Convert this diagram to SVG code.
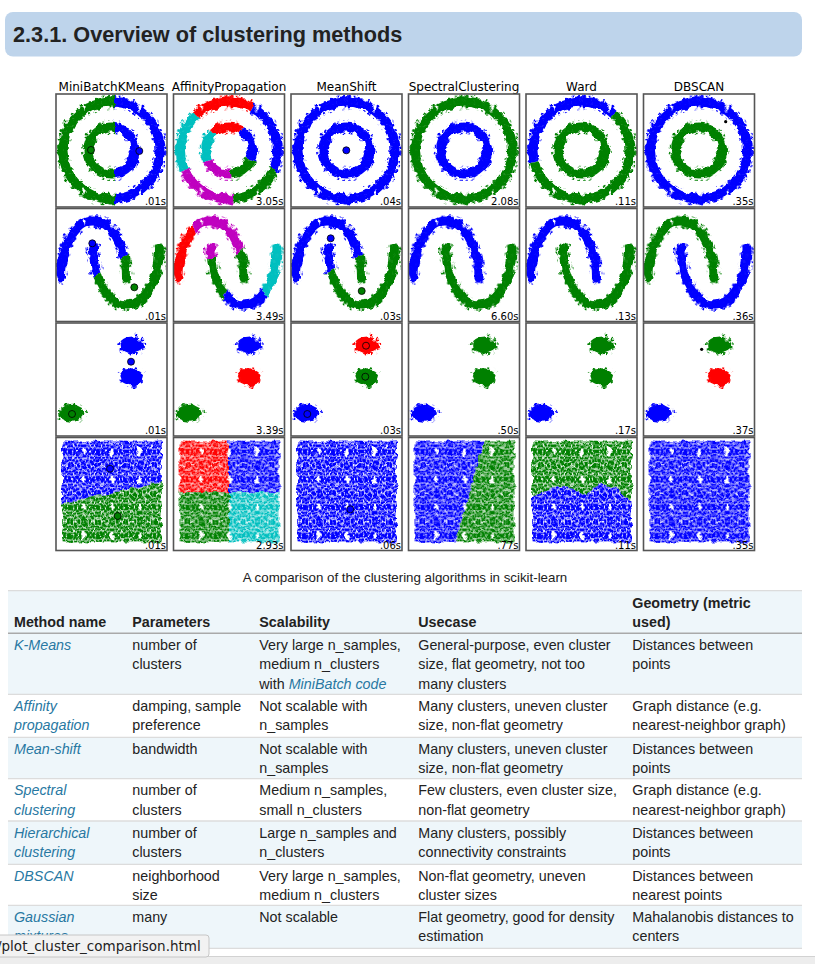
<svg xmlns="http://www.w3.org/2000/svg" width="815" height="964" viewBox="0 0 815 964">
<style>
.ttl{font-family:"DejaVu Sans",sans-serif;font-size:12px;fill:#000;text-anchor:middle}
.tm{font-family:"DejaVu Sans",sans-serif;font-size:10px;fill:#000;text-anchor:end}
.frame{fill:none;stroke:#555;stroke-width:1.6}
.cen{stroke:#000;stroke-width:0.8}
.cell{font-family:"Liberation Sans",Arial,sans-serif;font-size:14.3px;fill:#222}
.hd{font-weight:bold}
.lk{fill:#2878a2;font-style:italic}
.rl{stroke:#dcdcdc;stroke-width:1.3}
.lt{fill:#eef6fa}
</style>
<defs>
<filter id="jit" x="-10%" y="-10%" width="120%" height="120%"><feTurbulence type="fractalNoise" baseFrequency="0.13" numOctaves="2" seed="7"/><feDisplacementMap in="SourceGraphic" scale="6" xChannelSelector="R" yChannelSelector="G"/></filter>
<g id="dC"><circle cx="1.6" cy="1.8" r="2.4"/><circle cx="5.2" cy="1" r="2.4"/><circle cx="8.7" cy="2.2" r="2.4"/><circle cx="12.3" cy="1.4" r="2.4"/><circle cx="3.3" cy="4.9" r="2.4"/><circle cx="6.9" cy="4.4" r="2.4"/><circle cx="10.6" cy="5.3" r="2.4"/><circle cx="1.2" cy="8.3" r="2.4"/><circle cx="4.8" cy="8.1" r="2.4"/><circle cx="8.4" cy="7.9" r="2.4"/><circle cx="12.4" cy="8.8" r="2.4"/><circle cx="2.9" cy="11.6" r="2.4"/><circle cx="6.6" cy="11.3" r="2.4"/><circle cx="10.1" cy="11.9" r="2.4"/><circle cx="13.2" cy="12.6" r="2.4"/><circle cx="0" cy="3.8" r="2.4"/><circle cx="14" cy="5.5" r="2.4"/><circle cx="4.5" cy="14" r="2.4"/><circle cx="8.8" cy="14" r="2.4"/></g>
<g id="dD"><circle cx="1.6" cy="1.8" r="1.7"/><circle cx="5.2" cy="1" r="1.7"/><circle cx="8.7" cy="2.2" r="1.7"/><circle cx="12.3" cy="1.4" r="1.7"/><circle cx="3.3" cy="4.9" r="1.7"/><circle cx="6.9" cy="4.4" r="1.7"/><circle cx="10.6" cy="5.3" r="1.7"/><circle cx="1.2" cy="8.3" r="1.7"/><circle cx="4.8" cy="8.1" r="1.7"/><circle cx="8.4" cy="7.9" r="1.7"/><circle cx="12.4" cy="8.8" r="1.7"/><circle cx="2.9" cy="11.6" r="1.7"/><circle cx="6.6" cy="11.3" r="1.7"/><circle cx="10.1" cy="11.9" r="1.7"/><circle cx="13.2" cy="12.6" r="1.7"/><circle cx="0" cy="3.8" r="1.7"/><circle cx="14" cy="5.5" r="1.7"/><circle cx="4.5" cy="14" r="1.7"/><circle cx="8.8" cy="14" r="1.7"/></g>
<g id="dS"><circle cx="2.5" cy="3" r="1.5"/><circle cx="9" cy="2" r="1.5"/><circle cx="6" cy="7.5" r="1.5"/><circle cx="12" cy="9.5" r="1.5"/><circle cx="3" cy="12" r="1.5"/></g>
<g id="qC"><use href="#dC"/><use href="#dC" transform="matrix(-1 0 0 1 28 0)"/><use href="#dC" transform="matrix(1 0 0 -1 0 28)"/><use href="#dC" transform="rotate(180 14 14)"/></g>
<g id="qD"><use href="#dD"/><use href="#dD" transform="matrix(-1 0 0 1 28 0)"/><use href="#dD" transform="matrix(1 0 0 -1 0 28)"/><use href="#dD" transform="rotate(180 14 14)"/></g>
<g id="qS"><use href="#dS"/><use href="#dS" transform="matrix(-1 0 0 1 28 0)"/><use href="#dS" transform="matrix(1 0 0 -1 0 28)"/><use href="#dS" transform="rotate(180 14 14)"/></g>
<pattern id="bC" width="28" height="28" patternUnits="userSpaceOnUse"><use href="#qC" fill="#0000ff"/></pattern>
<pattern id="gC" width="28" height="28" patternUnits="userSpaceOnUse"><use href="#qC" fill="#008000"/></pattern>
<pattern id="rC" width="28" height="28" patternUnits="userSpaceOnUse"><use href="#qC" fill="#ff0000"/></pattern>
<pattern id="cC" width="28" height="28" patternUnits="userSpaceOnUse"><use href="#qC" fill="#00bfbf"/></pattern>
<pattern id="mC" width="28" height="28" patternUnits="userSpaceOnUse"><use href="#qC" fill="#bf00bf"/></pattern>
<pattern id="bD" width="28" height="28" patternUnits="userSpaceOnUse"><use href="#qD" fill="#0000ff"/></pattern>
<pattern id="gD" width="28" height="28" patternUnits="userSpaceOnUse"><use href="#qD" fill="#008000"/></pattern>
<pattern id="rD" width="28" height="28" patternUnits="userSpaceOnUse"><use href="#qD" fill="#ff0000"/></pattern>
<pattern id="cD" width="28" height="28" patternUnits="userSpaceOnUse"><use href="#qD" fill="#00bfbf"/></pattern>
<pattern id="bS" width="28" height="28" patternUnits="userSpaceOnUse"><use href="#qS" fill="#0000ff"/></pattern>
<pattern id="gS" width="28" height="28" patternUnits="userSpaceOnUse"><use href="#qS" fill="#008000"/></pattern>
<pattern id="rS" width="28" height="28" patternUnits="userSpaceOnUse"><use href="#qS" fill="#ff0000"/></pattern>
<pattern id="cS" width="28" height="28" patternUnits="userSpaceOnUse"><use href="#qS" fill="#00bfbf"/></pattern>
<pattern id="mS" width="28" height="28" patternUnits="userSpaceOnUse"><use href="#qS" fill="#bf00bf"/></pattern>

<clipPath id="pc"><rect width="111" height="113"/></clipPath>
<clipPath id="k1g"><rect x="-20" y="-20" width="79" height="160"/></clipPath>
<clipPath id="k1b"><rect x="59" y="-20" width="80" height="160"/></clipPath>
<clipPath id="a1c"><polygon points="55.5,56.5 -12.7,-16.6 -35.85,97.2"/></clipPath>
<clipPath id="a1r"><polygon points="55.5,56.5 105.5,-30.1 -12.7,-16.6"/></clipPath>
<clipPath id="a1b"><polygon points="55.5,56.5 147.55,95.57 105.5,-30.1"/></clipPath>
<clipPath id="a1g"><polygon points="55.5,56.5 64.2,156.1 147.55,95.57"/></clipPath>
<clipPath id="a1m"><polygon points="55.5,56.5 -35.85,97.2 64.2,156.1"/></clipPath>
<clipPath id="w1b"><polygon points="55.5,56.5 122.4,-17.8 55.5,-43.5 -21.1,-7.8 -41.5,80.7"/></clipPath>
<clipPath id="w1g"><polygon points="55.5,56.5 -41.5,80.7 55.5,156.5 155.5,56.5 122.4,-17.8"/></clipPath>
<clipPath id="k2b"><polygon points="-29.3,115.5 170.5,-22.5 170.5,-200 -200,-200 -200,115.5"/></clipPath>
<clipPath id="k2g"><polygon points="-29.3,115.5 170.5,-22.5 300,-22.5 300,300 -29.3,300"/></clipPath>
<clipPath id="m2b"><polygon points="-29.3,96.6 170.5,-3.6 170.5,-200 -200,-200 -200,96.6"/></clipPath>
<clipPath id="m2g"><polygon points="-29.3,96.6 170.5,-3.6 300,-3.6 300,300 -29.3,300"/></clipPath>
<clipPath id="a2ur"><polygon points="37.3,69.5 -12.7,-78.7 -100,-78.7 -100,130 37.3,130"/></clipPath>
<clipPath id="a2um"><polygon points="37.3,69.5 -12.7,-78.7 125.5,-10.7"/></clipPath>
<clipPath id="a2ug"><polygon points="37.3,69.5 125.5,-10.7 200,-10.7 200,130 37.3,130"/></clipPath>
<clipPath id="a2lm"><polygon points="70.6,39.5 70.6,-100 -100,-100 -100,91"/></clipPath>
<clipPath id="a2lg"><polygon points="70.6,39.5 -100,91 -100,200 4.9,200"/></clipPath>
<clipPath id="a2lb"><polygon points="70.6,39.5 4.9,200 143.8,200"/></clipPath>
<clipPath id="a2lc"><polygon points="70.6,39.5 143.8,200 200,200 200,-100 70.6,-100"/></clipPath>

<circle id="Oc" cx="55.5" cy="56.5" r="48.5" fill="none" stroke-width="9"/>
<circle id="Os" cx="55.5" cy="56.5" r="48.5" fill="none" stroke-width="14"/>
<circle id="Ic" cx="55.5" cy="56.5" r="23.5" fill="none" stroke-width="9"/>
<circle id="Is" cx="55.5" cy="56.5" r="23.5" fill="none" stroke-width="14"/>
<g id="Rc"><use href="#Oc"/><use href="#Ic"/></g>
<g id="Rs"><use href="#Os"/><use href="#Is"/></g>
<path id="Uc" d="M4.5 69.5A33 57 0 0 1 70.5 69.5" fill="none" stroke-width="9" stroke-linecap="round"/>
<path id="Us" d="M4.5 69.5A33 57 0 0 1 70.5 69.5" fill="none" stroke-width="14" stroke-linecap="round"/>
<path id="Lc" d="M37.5 39.5A33 57 0 0 0 103.5 39.5" fill="none" stroke-width="9" stroke-linecap="round"/>
<path id="Ls" d="M37.5 39.5A33 57 0 0 0 103.5 39.5" fill="none" stroke-width="14" stroke-linecap="round"/>
<g id="Mc"><use href="#Uc"/><use href="#Lc"/></g>
<g id="Ms"><use href="#Us"/><use href="#Ls"/></g>
<ellipse id="t3" cx="75.7" cy="22" rx="14.5" ry="11"/>
<ellipse id="t2" cx="75.7" cy="22" rx="12" ry="8.5"/>
<ellipse id="t1" cx="75.7" cy="22" rx="9.5" ry="6.8"/>
<ellipse id="m3" cx="75.7" cy="53.7" rx="14.5" ry="11"/>
<ellipse id="m2" cx="75.7" cy="53.7" rx="12" ry="8.5"/>
<ellipse id="m1" cx="75.7" cy="53.7" rx="9.5" ry="6.8"/>
<ellipse id="l3" cx="16" cy="90.5" rx="15.5" ry="10.5"/>
<ellipse id="l2" cx="15.7" cy="90.3" rx="12.5" ry="8.5"/>
<ellipse id="l1" cx="15.2" cy="90" rx="10" ry="6.5"/>
</defs>

<rect width="815" height="964" fill="#ffffff"/>

<g id="heading">
<rect x="5" y="12" width="797" height="44.5" rx="8" fill="#bed4eb"/>
<text x="13" y="41.7" font-family="Liberation Sans, Arial, sans-serif" font-size="21.7" font-weight="bold" fill="#222">2.3.1. Overview of clustering methods</text>
</g>

<g id="column-titles">
<text class="ttl" x="111.5" y="90.7">MiniBatchKMeans</text>
<text class="ttl" x="229" y="90.7">AffinityPropagation</text>
<text class="ttl" x="346.5" y="90.7">MeanShift</text>
<text class="ttl" x="464" y="90.7">SpectralClustering</text>
<text class="ttl" x="581.5" y="90.7">Ward</text>
<text class="ttl" x="699" y="90.7">DBSCAN</text>
</g>

<!-- Row 1: circles -->
<g id="p11" transform="translate(56 94)">
<g clip-path="url(#pc)">
<g filter="url(#jit)">
<g clip-path="url(#k1g)"><use href="#Rs" stroke="url(#gS)"/><use href="#Rc" stroke="url(#gC)"/></g>
<g clip-path="url(#k1b)"><use href="#Rs" stroke="url(#bS)"/><use href="#Rc" stroke="url(#bC)"/></g>
</g>
<circle class="cen" cx="35" cy="56" r="3.5" fill="#008000"/>
<circle class="cen" cx="83.3" cy="57" r="3.5" fill="#0000ff"/>
</g>
<rect class="frame" width="111" height="113"/><text class="tm" x="110" y="111">.01s</text>
</g>
<g id="p12" transform="translate(173.5 94)">
<g clip-path="url(#pc)">
<g filter="url(#jit)">
<g clip-path="url(#a1c)"><use href="#Rs" stroke="url(#cS)"/><use href="#Rc" stroke="url(#cC)"/></g>
<g clip-path="url(#a1r)"><use href="#Rs" stroke="url(#rS)"/><use href="#Rc" stroke="url(#rC)"/></g>
<g clip-path="url(#a1b)"><use href="#Rs" stroke="url(#bS)"/><use href="#Rc" stroke="url(#bC)"/></g>
<g clip-path="url(#a1g)"><use href="#Rs" stroke="url(#gS)"/><use href="#Rc" stroke="url(#gC)"/></g>
<g clip-path="url(#a1m)"><use href="#Rs" stroke="url(#mS)"/><use href="#Rc" stroke="url(#mC)"/></g>
</g>
</g>
<rect class="frame" width="111" height="113"/><text class="tm" x="110" y="111">3.05s</text>
</g>
<g id="p13" transform="translate(291 94)">
<g clip-path="url(#pc)">
<g filter="url(#jit)"><use href="#Rs" stroke="url(#bS)"/><use href="#Rc" stroke="url(#bC)"/></g>
<circle class="cen" cx="55.3" cy="56.3" r="3.5" fill="#0000ff"/>
</g>
<rect class="frame" width="111" height="113"/><text class="tm" x="110" y="111">.04s</text>
</g>
<g id="p14" transform="translate(408.5 94)">
<g clip-path="url(#pc)">
<g filter="url(#jit)">
<use href="#Os" stroke="url(#gS)"/><use href="#Oc" stroke="url(#gC)"/>
<use href="#Is" stroke="url(#bS)"/><use href="#Ic" stroke="url(#bC)"/>
</g>
</g>
<rect class="frame" width="111" height="113"/><text class="tm" x="110" y="111">2.08s</text>
</g>
<g id="p15" transform="translate(526 94)">
<g clip-path="url(#pc)">
<g filter="url(#jit)">
<g clip-path="url(#w1b)"><use href="#Os" stroke="url(#bS)"/><use href="#Oc" stroke="url(#bC)"/></g>
<g clip-path="url(#w1g)"><use href="#Os" stroke="url(#gS)"/><use href="#Oc" stroke="url(#gC)"/></g>
<use href="#Is" stroke="url(#gS)"/><use href="#Ic" stroke="url(#gC)"/>
</g>
</g>
<rect class="frame" width="111" height="113"/><text class="tm" x="110" y="111">.11s</text>
</g>
<g id="p16" transform="translate(643.5 94)">
<g clip-path="url(#pc)">
<g filter="url(#jit)">
<use href="#Os" stroke="url(#bS)"/><use href="#Oc" stroke="url(#bC)"/>
<use href="#Is" stroke="url(#gS)"/><use href="#Ic" stroke="url(#gC)"/>
</g>
<circle cx="82.2" cy="27.7" r="1.6" fill="#000"/>
</g>
<rect class="frame" width="111" height="113"/><text class="tm" x="110" y="111">.35s</text>
</g>

<!-- Row 2: moons -->
<g id="p21" transform="translate(56 208.5)">
<g clip-path="url(#pc)">
<g filter="url(#jit)">
<g clip-path="url(#k2b)"><use href="#Ms" stroke="url(#bS)"/><use href="#Mc" stroke="url(#bC)"/></g>
<g clip-path="url(#k2g)"><use href="#Ms" stroke="url(#gS)"/><use href="#Mc" stroke="url(#gC)"/></g>
</g>
<circle class="cen" cx="36.3" cy="34.8" r="3.5" fill="#0000ff"/>
<circle class="cen" cx="78.3" cy="78.8" r="3.5" fill="#008000"/>
</g>
<rect class="frame" width="111" height="113"/><text class="tm" x="110" y="111">.01s</text>
</g>
<g id="p22" transform="translate(173.5 208.5)">
<g clip-path="url(#pc)">
<g filter="url(#jit)">
<g clip-path="url(#a2ur)"><use href="#Us" stroke="url(#rS)"/><use href="#Uc" stroke="url(#rC)"/></g>
<g clip-path="url(#a2um)"><use href="#Us" stroke="url(#mS)"/><use href="#Uc" stroke="url(#mC)"/></g>
<g clip-path="url(#a2ug)"><use href="#Us" stroke="url(#gS)"/><use href="#Uc" stroke="url(#gC)"/></g>
<g clip-path="url(#a2lm)"><use href="#Ls" stroke="url(#mS)"/><use href="#Lc" stroke="url(#mC)"/></g>
<g clip-path="url(#a2lg)"><use href="#Ls" stroke="url(#gS)"/><use href="#Lc" stroke="url(#gC)"/></g>
<g clip-path="url(#a2lb)"><use href="#Ls" stroke="url(#bS)"/><use href="#Lc" stroke="url(#bC)"/></g>
<g clip-path="url(#a2lc)"><use href="#Ls" stroke="url(#cS)"/><use href="#Lc" stroke="url(#cC)"/></g>
</g>
</g>
<rect class="frame" width="111" height="113"/><text class="tm" x="110" y="111">3.49s</text>
</g>
<g id="p23" transform="translate(291 208.5)">
<g clip-path="url(#pc)">
<g filter="url(#jit)">
<g clip-path="url(#m2b)"><use href="#Ms" stroke="url(#bS)"/><use href="#Mc" stroke="url(#bC)"/></g>
<g clip-path="url(#m2g)"><use href="#Ms" stroke="url(#gS)"/><use href="#Mc" stroke="url(#gC)"/></g>
</g>
<circle class="cen" cx="39.7" cy="29.8" r="3.5" fill="#0000ff"/>
<circle class="cen" cx="70.7" cy="82.5" r="3.5" fill="#008000"/>
</g>
<rect class="frame" width="111" height="113"/><text class="tm" x="110" y="111">.03s</text>
</g>
<g id="p24" transform="translate(408.5 208.5)">
<g clip-path="url(#pc)">
<g filter="url(#jit)">
<use href="#Us" stroke="url(#bS)"/><use href="#Uc" stroke="url(#bC)"/>
<use href="#Ls" stroke="url(#gS)"/><use href="#Lc" stroke="url(#gC)"/>
</g>
</g>
<rect class="frame" width="111" height="113"/><text class="tm" x="110" y="111">6.60s</text>
</g>
<g id="p25" transform="translate(526 208.5)">
<g clip-path="url(#pc)">
<g filter="url(#jit)">
<use href="#Us" stroke="url(#bS)"/><use href="#Uc" stroke="url(#bC)"/>
<use href="#Ls" stroke="url(#gS)"/><use href="#Lc" stroke="url(#gC)"/>
</g>
</g>
<rect class="frame" width="111" height="113"/><text class="tm" x="110" y="111">.13s</text>
</g>
<g id="p26" transform="translate(643.5 208.5)">
<g clip-path="url(#pc)">
<g filter="url(#jit)">
<use href="#Us" stroke="url(#gS)"/><use href="#Uc" stroke="url(#gC)"/>
<use href="#Ls" stroke="url(#bS)"/><use href="#Lc" stroke="url(#bC)"/>
</g>
</g>
<rect class="frame" width="111" height="113"/><text class="tm" x="110" y="111">.36s</text>
</g>

<!-- Row 3: blobs -->
<g id="p31" transform="translate(56 323)">
<g clip-path="url(#pc)">
<g filter="url(#jit)">
<use href="#t3" fill="url(#bS)"/><use href="#t2" fill="url(#bC)"/><use href="#t1" fill="#0000ff"/>
<use href="#m3" fill="url(#bS)"/><use href="#m2" fill="url(#bC)"/><use href="#m1" fill="#0000ff"/>
<use href="#l3" fill="url(#gS)"/><use href="#l2" fill="url(#gC)"/><use href="#l1" fill="#008000"/>
</g>
<circle class="cen" cx="75" cy="38.7" r="3.5" fill="#0000ff"/>
<circle class="cen" cx="16" cy="91" r="3.5" fill="#008000"/>
</g>
<rect class="frame" width="111" height="113"/><text class="tm" x="110" y="111">.01s</text>
</g>
<g id="p32" transform="translate(173.5 323)">
<g clip-path="url(#pc)">
<g filter="url(#jit)">
<use href="#t3" fill="url(#bS)"/><use href="#t2" fill="url(#bC)"/><use href="#t1" fill="#0000ff"/>
<use href="#m3" fill="url(#rS)"/><use href="#m2" fill="url(#rC)"/><use href="#m1" fill="#ff0000"/>
<use href="#l3" fill="url(#gS)"/><use href="#l2" fill="url(#gC)"/><use href="#l1" fill="#008000"/>
</g>
</g>
<rect class="frame" width="111" height="113"/><text class="tm" x="110" y="111">3.39s</text>
</g>
<g id="p33" transform="translate(291 323)">
<g clip-path="url(#pc)">
<g filter="url(#jit)">
<use href="#t3" fill="url(#rS)"/><use href="#t2" fill="url(#rC)"/><use href="#t1" fill="#ff0000"/>
<use href="#m3" fill="url(#gS)"/><use href="#m2" fill="url(#gC)"/><use href="#m1" fill="#008000"/>
<use href="#l3" fill="url(#bS)"/><use href="#l2" fill="url(#bC)"/><use href="#l1" fill="#0000ff"/>
</g>
<circle class="cen" cx="75" cy="22.7" r="3.5" fill="#ff0000"/>
<circle class="cen" cx="74.3" cy="53.7" r="3.5" fill="#008000"/>
<circle class="cen" cx="16.3" cy="91" r="3.5" fill="#0000ff"/>
</g>
<rect class="frame" width="111" height="113"/><text class="tm" x="110" y="111">.03s</text>
</g>
<g id="p34" transform="translate(408.5 323)">
<g clip-path="url(#pc)">
<g filter="url(#jit)">
<use href="#t3" fill="url(#gS)"/><use href="#t2" fill="url(#gC)"/><use href="#t1" fill="#008000"/>
<use href="#m3" fill="url(#gS)"/><use href="#m2" fill="url(#gC)"/><use href="#m1" fill="#008000"/>
<use href="#l3" fill="url(#bS)"/><use href="#l2" fill="url(#bC)"/><use href="#l1" fill="#0000ff"/>
</g>
</g>
<rect class="frame" width="111" height="113"/><text class="tm" x="110" y="111">.50s</text>
</g>
<g id="p35" transform="translate(526 323)">
<g clip-path="url(#pc)">
<g filter="url(#jit)">
<use href="#t3" fill="url(#gS)"/><use href="#t2" fill="url(#gC)"/><use href="#t1" fill="#008000"/>
<use href="#m3" fill="url(#gS)"/><use href="#m2" fill="url(#gC)"/><use href="#m1" fill="#008000"/>
<use href="#l3" fill="url(#bS)"/><use href="#l2" fill="url(#bC)"/><use href="#l1" fill="#0000ff"/>
</g>
</g>
<rect class="frame" width="111" height="113"/><text class="tm" x="110" y="111">.17s</text>
</g>
<g id="p36" transform="translate(643.5 323)">
<g clip-path="url(#pc)">
<g filter="url(#jit)">
<use href="#t3" fill="url(#gS)"/><use href="#t2" fill="url(#gC)"/><use href="#t1" fill="#008000"/>
<use href="#m3" fill="url(#rS)"/><use href="#m2" fill="url(#rC)"/><use href="#m1" fill="#ff0000"/>
<use href="#l3" fill="url(#bS)"/><use href="#l2" fill="url(#bC)"/><use href="#l1" fill="#0000ff"/>
</g>
<circle cx="58.2" cy="26.3" r="1.6" fill="#000"/>
</g>
<rect class="frame" width="111" height="113"/><text class="tm" x="110" y="111">.37s</text>
</g>

<!-- Row 4: uniform squares -->
<g id="p41" transform="translate(56 437.5)">
<g clip-path="url(#pc)">
<g filter="url(#jit)">
<polygon points="6,4 106,4 106,44.7 6,66" fill="url(#bD)"/>
<polygon points="6,66 106,44.7 106,105 6,105" fill="url(#gD)"/>
</g>
<circle class="cen" cx="54" cy="31.2" r="3.5" fill="#0000ff"/>
<circle class="cen" cx="61.7" cy="78.5" r="3.5" fill="#008000"/>
</g>
<rect class="frame" width="111" height="113"/><text class="tm" x="110" y="111">.01s</text>
</g>
<g id="p42" transform="translate(173.5 437.5)">
<g clip-path="url(#pc)">
<g filter="url(#jit)">
<polygon points="6,4 55.5,4 55.5,54.7 6,54.7" fill="url(#rD)"/>
<polygon points="55.5,4 106,4 106,54.7 55.5,54.7" fill="url(#bD)"/>
<polygon points="6,54.7 55.5,54.7 55.5,105 6,105" fill="url(#gD)"/>
<polygon points="55.5,54.7 106,54.7 106,105 55.5,105" fill="url(#cD)"/>
</g>
</g>
<rect class="frame" width="111" height="113"/><text class="tm" x="110" y="111">2.93s</text>
</g>
<g id="p43" transform="translate(291 437.5)">
<g clip-path="url(#pc)">
<g filter="url(#jit)"><rect x="6" y="4" width="100" height="101" fill="url(#bD)"/></g>
<circle class="cen" cx="59.3" cy="71.8" r="3.5" fill="#0000ff"/>
</g>
<rect class="frame" width="111" height="113"/><text class="tm" x="110" y="111">.06s</text>
</g>
<g id="p44" transform="translate(408.5 437.5)">
<g clip-path="url(#pc)">
<g filter="url(#jit)">
<polygon points="6,4 75,4 61.5,54 46.5,105 6,105" fill="url(#bD)"/>
<polygon points="75,4 106,4 106,105 46.5,105 61.5,54" fill="url(#gD)"/>
</g>
</g>
<rect class="frame" width="111" height="113"/><text class="tm" x="110" y="111">.77s</text>
</g>
<g id="p45" transform="translate(526 437.5)">
<g clip-path="url(#pc)">
<g filter="url(#jit)">
<polygon points="6,4 106,4 106,64 90.7,50.8 74,45.8 60.7,57.5 37.3,47.5 6,59" fill="url(#gD)"/>
<polygon points="6,59 37.3,47.5 60.7,57.5 74,45.8 90.7,50.8 106,64 106,105 6,105" fill="url(#bD)"/>
</g>
</g>
<rect class="frame" width="111" height="113"/><text class="tm" x="110" y="111">.11s</text>
</g>
<g id="p46" transform="translate(643.5 437.5)">
<g clip-path="url(#pc)">
<g filter="url(#jit)"><rect x="6" y="4" width="100" height="101" fill="url(#bD)"/></g>
</g>
<rect class="frame" width="111" height="113"/><text class="tm" x="110" y="111">.35s</text>
</g>

<text id="caption" x="405" y="582" font-family="Liberation Sans, Arial, sans-serif" font-size="13.3" fill="#222" text-anchor="middle">A comparison of the clustering algorithms in scikit-learn</text>

<g id="table">
<rect class="lt" x="8" y="590.7" width="794" height="42.6"/>
<rect class="lt" x="8" y="633.3" width="794" height="61"/>
<rect class="lt" x="8" y="737.3" width="794" height="41.4"/>
<rect class="lt" x="8" y="821" width="794" height="43.3"/>
<rect class="lt" x="8" y="905.3" width="794" height="43"/>
<line class="rl" x1="8" y1="590.7" x2="802" y2="590.7"/>
<line class="rl" x1="8" y1="694.3" x2="802" y2="694.3"/>
<line class="rl" x1="8" y1="737.3" x2="802" y2="737.3"/>
<line class="rl" x1="8" y1="778.7" x2="802" y2="778.7"/>
<line class="rl" x1="8" y1="821" x2="802" y2="821"/>
<line class="rl" x1="8" y1="864.3" x2="802" y2="864.3"/>
<line class="rl" x1="8" y1="905.3" x2="802" y2="905.3"/>
<line class="rl" x1="8" y1="948.3" x2="802" y2="948.3"/>
<line x1="8" y1="633.3" x2="802" y2="633.3" stroke="#a9a9a9" stroke-width="1.5"/>

<g id="hdr" class="cell hd">
<text x="14" y="627">Method name</text>
<text x="132.3" y="627">Parameters</text>
<text x="259.3" y="627">Scalability</text>
<text x="418.3" y="627">Usecase</text>
<text x="632.3" y="607.5">Geometry (metric</text>
<text x="632.3" y="627">used)</text>
</g>

<g id="row-kmeans" class="cell">
<text class="lk" x="14" y="650">K-Means</text>
<text x="132.3" y="650">number of</text><text x="132.3" y="669.3">clusters</text>
<text x="259.3" y="650">Very large n_samples,</text><text x="259.3" y="669.3">medium n_clusters</text>
<text x="259.3" y="688.6">with <tspan class="lk">MiniBatch code</tspan></text>
<text x="418.3" y="650">General-purpose, even cluster</text><text x="418.3" y="669.3">size, flat geometry, not too</text><text x="418.3" y="688.6">many clusters</text>
<text x="632.3" y="650">Distances between</text><text x="632.3" y="669.3">points</text>
</g>
<g id="row-affinity" class="cell">
<text class="lk" x="14" y="710.8">Affinity</text><text class="lk" x="14" y="730.1">propagation</text>
<text x="132.3" y="710.8">damping, sample</text><text x="132.3" y="730.1">preference</text>
<text x="259.3" y="710.8">Not scalable with</text><text x="259.3" y="730.1">n_samples</text>
<text x="418.3" y="710.8">Many clusters, uneven cluster</text><text x="418.3" y="730.1">size, non-flat geometry</text>
<text x="632.3" y="710.8">Graph distance (e.g.</text><text x="632.3" y="730.1">nearest-neighbor graph)</text>
</g>
<g id="row-meanshift" class="cell">
<text class="lk" x="14" y="753.8">Mean-shift</text>
<text x="132.3" y="753.8">bandwidth</text>
<text x="259.3" y="753.8">Not scalable with</text><text x="259.3" y="773.1">n_samples</text>
<text x="418.3" y="753.8">Many clusters, uneven cluster</text><text x="418.3" y="773.1">size, non-flat geometry</text>
<text x="632.3" y="753.8">Distances between</text><text x="632.3" y="773.1">points</text>
</g>
<g id="row-spectral" class="cell">
<text class="lk" x="14" y="795.2">Spectral</text><text class="lk" x="14" y="814.5">clustering</text>
<text x="132.3" y="795.2">number of</text><text x="132.3" y="814.5">clusters</text>
<text x="259.3" y="795.2">Medium n_samples,</text><text x="259.3" y="814.5">small n_clusters</text>
<text x="418.3" y="795.2">Few clusters, even cluster size,</text><text x="418.3" y="814.5">non-flat geometry</text>
<text x="632.3" y="795.2">Graph distance (e.g.</text><text x="632.3" y="814.5">nearest-neighbor graph)</text>
</g>
<g id="row-hierarchical" class="cell">
<text class="lk" x="14" y="837.5">Hierarchical</text><text class="lk" x="14" y="856.8">clustering</text>
<text x="132.3" y="837.5">number of</text><text x="132.3" y="856.8">clusters</text>
<text x="259.3" y="837.5">Large n_samples and</text><text x="259.3" y="856.8">n_clusters</text>
<text x="418.3" y="837.5">Many clusters, possibly</text><text x="418.3" y="856.8">connectivity constraints</text>
<text x="632.3" y="837.5">Distances between</text><text x="632.3" y="856.8">points</text>
</g>
<g id="row-dbscan" class="cell">
<text class="lk" x="14" y="880.8">DBSCAN</text>
<text x="132.3" y="880.8">neighborhood</text><text x="132.3" y="900.1">size</text>
<text x="259.3" y="880.8">Very large n_samples,</text><text x="259.3" y="900.1">medium n_clusters</text>
<text x="418.3" y="880.8">Non-flat geometry, uneven</text><text x="418.3" y="900.1">cluster sizes</text>
<text x="632.3" y="880.8">Distances between</text><text x="632.3" y="900.1">nearest points</text>
</g>
<g id="row-gaussian" class="cell">
<text class="lk" x="14" y="921.8">Gaussian</text><text class="lk" x="14" y="941.1">mixtures</text>
<text x="132.3" y="921.8">many</text>
<text x="259.3" y="921.8">Not scalable</text>
<text x="418.3" y="921.8">Flat geometry, good for density</text><text x="418.3" y="941.1">estimation</text>
<text x="632.3" y="921.8">Mahalanobis distances to</text><text x="632.3" y="941.1">centers</text>
</g>
</g>

<g id="page-bottom">
<rect x="0" y="956.5" width="815" height="8" fill="#ededed"/>
<line x1="0" y1="956.5" x2="815" y2="956.5" stroke="#d2d2d2" stroke-width="1"/>
</g>
<g id="status-bar">
<rect x="-3" y="935" width="212" height="22" rx="3" fill="#f2f2f2" stroke="#c6c6c6" stroke-width="1"/>
<text x="-3" y="951" font-family="DejaVu Sans, sans-serif" font-size="13.5" fill="#222">/plot_cluster_comparison.html</text>
</g>
</svg>
